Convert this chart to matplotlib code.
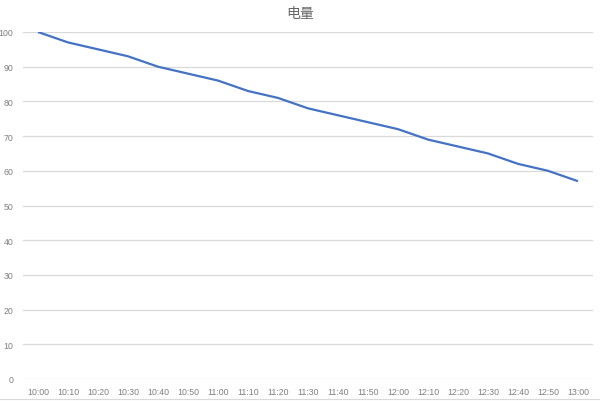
import matplotlib.pyplot as plt

plt.rcParams["font.family"] = ["Liberation Sans", "Noto Sans CJK SC", "DejaVu Sans"]

times = ["10:00", "10:10", "10:20", "10:30", "10:40", "10:50", "11:00", "11:10",
         "11:20", "11:30", "11:40", "11:50", "12:00", "12:10", "12:20", "12:30",
         "12:40", "12:50", "13:00"]
battery = [100, 97, 95, 93, 90, 88, 86, 83, 81, 78, 76, 74, 72, 69, 67, 65, 62, 60, 57]
yticks = list(range(0, 101, 10))

fig = plt.figure(figsize=(6, 4.02), dpi=100)
fig.patch.set_facecolor("white")
ax = fig.add_axes([23 / 600, 1 - 380 / 402, 570 / 600, 347 / 402])

x = list(range(len(times)))
ax.plot(x, battery, color="#4472C4", linewidth=1.6, solid_capstyle="butt")

ax.set_xlim(-0.5, len(times) - 0.5)
ax.set_ylim(0, 100)
ax.set_yticks(yticks)
ax.set_xticks(x)
ax.set_xticklabels(times)
ax.grid(axis="y", color="#d9d9d9", linewidth=0.9)
ax.set_axisbelow(True)
for s in ax.spines.values():
    s.set_visible(False)
ax.tick_params(axis="both", length=0, labelsize=6.3, colors="#7f7f7f")
ax.tick_params(axis="x", pad=6)
ax.tick_params(axis="y", pad=7)

fig.text(0.5, 1 - 14 / 402, "电量", ha="center", va="center", fontsize=10,
         color="#666666", family=["Noto Sans CJK SC", "DejaVu Sans"])
fig.add_artist(plt.Line2D([0, 1], [1 - 400 / 402] * 2, color="#d9d9d9", linewidth=0.8))

fig.savefig("out.png", dpi=100, facecolor="white")
